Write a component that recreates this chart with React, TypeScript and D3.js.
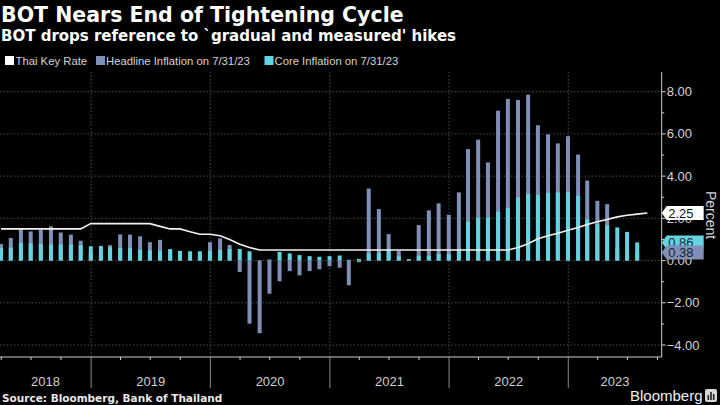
import React from "react";
import * as d3 from "d3";

const months = [
  "2018-03","2018-04","2018-05","2018-06","2018-07","2018-08","2018-09","2018-10","2018-11","2018-12",
  "2019-01","2019-02","2019-03","2019-04","2019-05","2019-06","2019-07","2019-08","2019-09","2019-10","2019-11","2019-12",
  "2020-01","2020-02","2020-03","2020-04","2020-05","2020-06","2020-07","2020-08","2020-09","2020-10","2020-11","2020-12",
  "2021-01","2021-02","2021-03","2021-04","2021-05","2021-06","2021-07","2021-08","2021-09","2021-10","2021-11","2021-12",
  "2022-01","2022-02","2022-03","2022-04","2022-05","2022-06","2022-07","2022-08","2022-09","2022-10","2022-11","2022-12",
  "2023-01","2023-02","2023-03","2023-04","2023-05","2023-06","2023-07",
];

const headline = [
  0.78, 1.07, 1.49, 1.38, 1.46, 1.62, 1.33, 1.23, 0.94, 0.36,
  0.27, 0.73, 1.24, 1.23, 1.15, 0.87, 0.98, 0.52, 0.32, 0.11, 0.21, 0.87,
  1.05, 0.74, -0.54, -2.99, -3.44, -1.57, -0.98, -0.5, -0.7, -0.5, -0.41, -0.27,
  -0.34, -1.17, -0.08, 3.41, 2.44, 1.25, 0.45, -0.02, 1.68, 2.38, 2.71, 2.17,
  3.23, 5.28, 5.73, 4.65, 7.1, 7.66, 7.61, 7.86, 6.41, 5.98, 5.55, 5.89,
  5.02, 3.79, 2.83, 2.67, 0.53, 0.23, 0.38,
];

const core = [
  0.6, 0.62, 0.83, 0.82, 0.79, 0.76, 0.76, 0.76, 0.72, 0.68,
  0.69, 0.63, 0.6, 0.58, 0.5, 0.48, 0.46, 0.54, 0.46, 0.44, 0.44, 0.46,
  0.5, 0.55, 0.55, 0.44, 0.01, 0.05, 0.41, 0.34, 0.26, 0.21, 0.18, 0.21,
  0.24, 0.04, 0.08, 0.34, 0.37, 0.52, 0.2, 0.07, 0.23, 0.23, 0.31, 0.31,
  0.55, 1.84, 2.03, 2.03, 2.31, 2.5, 2.99, 3.17, 3.12, 3.21, 3.23, 3.24,
  3.07, 1.95, 1.72, 1.67, 1.57, 1.36, 0.86,
];

const rateMonths = [...months, "2023-08"];
const keyRate = [
  1.5, 1.5, 1.5, 1.5, 1.5, 1.5, 1.5, 1.5, 1.5, 1.75,
  1.75, 1.75, 1.75, 1.75, 1.75, 1.75, 1.62, 1.5, 1.5, 1.37, 1.25, 1.25,
  1.18, 1.0, 0.77, 0.62, 0.5, 0.5, 0.5, 0.5, 0.5, 0.5, 0.5, 0.5,
  0.5, 0.5, 0.5, 0.5, 0.5, 0.5, 0.5, 0.5, 0.5, 0.5, 0.5, 0.5,
  0.5, 0.5, 0.5, 0.5, 0.5, 0.5, 0.62, 0.8, 1.03, 1.18, 1.29, 1.44,
  1.57, 1.71, 1.84, 1.95, 2.07, 2.15, 2.2, 2.25,
];

const yTicks = [-4, -2, 0, 2, 4, 6, 8];
const yMinorTicks = [-3, -1, 1, 3, 5, 7];
const yearLabels = ["2018", "2019", "2020", "2021", "2022", "2023"];

const labels = [
  { text: "2.25", value: 2.25, fill: "#ffffff", color: "#111" },
  { text: "0.86", value: 0.86, fill: "#65d3df", color: "#1a2a33" },
  { text: "0.38", value: 0.38, fill: "#7f8fb5", color: "#1a1f2e" },
];

const W = 720;
const H = 405;
const PLOT_LEFT = 0;
const PLOT_RIGHT = 661.7;
const PLOT_TOP = 72;
const PLOT_BOTTOM = 357;

const HEAD_COLOR = "#7f8fb5";
const CORE_COLOR = "#65d3df";
const GRID = "#4a4a4a";
const AXIS = "#cfcfcf";
const FONT = "'Liberation Sans', Arial, sans-serif";
const BOLD_FONT = "'DejaVu Sans', 'Liberation Sans', sans-serif";

const parseMonth = d3.timeParse("%Y-%m");
const monthEnd = (m: string) => d3.timeDay.offset(d3.timeMonth.offset(parseMonth(m)!, 1), -1);

export default function App() {
  const x = d3
    .scaleTime()
    .domain([new Date(2018, 2, 28), new Date(2023, 9, 14)])
    .range([PLOT_LEFT, PLOT_RIGHT]);
  const y = d3.scaleLinear().domain([-4, 8]).range([345, 91.7]);

  const barW = 4;
  const line = d3
    .line<number>()
    .x((_, i) => x(monthEnd(rateMonths[i])))
    .y((d) => y(d));

  const yearStarts = d3.timeYear.range(new Date(2018, 0, 1), new Date(2024, 0, 1));
  const yearBounds = yearStarts.filter((d) => x(d) > PLOT_LEFT && x(d) < PLOT_RIGHT);
  const quarters = d3.timeMonth
    .every(3)!
    .range(x.domain()[0], x.domain()[1])
    .filter((d) => d.getMonth() !== 0);

  return (
    <svg width={W} height={H} style={{ position: "absolute", left: 0, top: 0, background: "#000" }}>
      <rect x={0} y={0} width={W} height={H} fill="#000" />
      {/* Title */}
      <text x={1} y={21.5} fill="#fff" fontFamily={BOLD_FONT} fontWeight="bold" fontSize={20.5}>
        BOT Nears End of Tightening Cycle
      </text>
      <text x={1} y={40.5} fill="#fff" fontFamily={BOLD_FONT} fontWeight="bold" fontSize={15}>
        BOT drops reference to `gradual and measured' hikes
      </text>
      {/* Legend */}
      <g fontFamily={FONT} fontSize={11.3} fill="#d4d4d4">
        <rect x={5} y={56} width={9} height={9} fill="#fff" />
        <text x={15.5} y={65}>Thai Key Rate</text>
        <rect x={96} y={56} width={9} height={9} fill={HEAD_COLOR} />
        <text x={106} y={65}>Headline Inflation on 7/31/23</text>
        <rect x={264.5} y={56} width={9} height={9} fill={CORE_COLOR} />
        <text x={274.5} y={65}>Core Inflation on 7/31/23</text>
      </g>

      {/* Grid */}
      {yTicks.map((t) => (
        <line key={"hg" + t} x1={PLOT_LEFT} x2={PLOT_RIGHT} y1={y(t)} y2={y(t)} stroke={GRID} strokeDasharray="1.5,2" />
      ))}
      {yearBounds.map((d, i) => (
        <line key={"vg" + i} x1={x(d)} x2={x(d)} y1={PLOT_TOP} y2={PLOT_BOTTOM} stroke={GRID} strokeDasharray="1.5,2" />
      ))}

      {/* Bars */}
      {months.map((m, i) => {
        const cx = x(monthEnd(m));
        const h = headline[i];
        const c = core[i];
        return (
          <g key={m}>
            <rect x={cx - barW / 2} width={barW} y={y(Math.max(0, h))} height={Math.abs(y(h) - y(0))} fill={HEAD_COLOR} />
            <rect x={cx - barW / 2} width={barW} y={y(Math.max(0, c))} height={Math.abs(y(c) - y(0))} fill={CORE_COLOR} />
          </g>
        );
      })}

      {/* Key rate line */}
      <path d={line(keyRate) || ""} fill="none" stroke="#f2f2f2" strokeWidth={1.6} />

      {/* Bottom axis */}
      <line x1={PLOT_LEFT} x2={PLOT_RIGHT} y1={PLOT_BOTTOM} y2={PLOT_BOTTOM} stroke={AXIS} strokeWidth={1} />
      {quarters.map((d, i) => (
        <line key={"q" + i} x1={x(d)} x2={x(d)} y1={PLOT_BOTTOM} y2={PLOT_BOTTOM + 3} stroke={AXIS} />
      ))}
      {yearBounds.map((d, i) => (
        <line key={"yb" + i} x1={x(d)} x2={x(d)} y1={PLOT_BOTTOM} y2={388} stroke="#8a8a8a" />
      ))}
      {yearStarts.map((d, i) => {
        const a = Math.max(PLOT_LEFT, x(d));
        const b = Math.min(PLOT_RIGHT, x(d3.timeYear.offset(d, 1)));
        return (
          <text key={"yl" + i} x={(a + b) / 2} y={386} textAnchor="middle" fill="#cfcfcf" fontFamily={FONT} fontSize={13}>
            {yearLabels[i]}
          </text>
        );
      })}

      {/* Right axis */}
      <line x1={PLOT_RIGHT} x2={PLOT_RIGHT} y1={PLOT_TOP} y2={PLOT_BOTTOM} stroke={AXIS} />
      {yMinorTicks.map((t) => (
        <line key={"mt" + t} x1={PLOT_RIGHT} x2={PLOT_RIGHT + 2.5} y1={y(t)} y2={y(t)} stroke={AXIS} />
      ))}
      {yTicks.map((t) => (
        <g key={"yt" + t}>
          <line x1={PLOT_RIGHT} x2={PLOT_RIGHT + 4} y1={y(t)} y2={y(t)} stroke={AXIS} />
          <text x={PLOT_RIGHT + 5} y={y(t) + 4.5} fill="#d4d4d4" fontFamily={FONT} fontSize={13}>
            {d3.format(".2f")(t)}
          </text>
        </g>
      ))}
      <text
        transform={`translate(706,215) rotate(90)`}
        textAnchor="middle"
        fill="#d4d4d4"
        fontFamily={FONT}
        fontSize={14}
      >
        Percent
      </text>

      {/* Value labels */}
      {labels.map((l) => {
        const cy = y(l.value);
        const x0 = PLOT_RIGHT;
        const bx = x0 + 5;
        const bw = 37;
        const bh = 14;
        const p = `M${x0},${cy} L${bx},${cy - bh / 2} L${bx + bw},${cy - bh / 2} L${bx + bw},${cy + bh / 2} L${bx},${cy + bh / 2} Z`;
        return (
          <g key={l.text}>
            <path d={p} fill={l.fill} />
            <text x={bx + 1.5} y={cy + 4.5} fill={l.color} fontFamily={FONT} fontSize={13}>
              {l.text}
            </text>
          </g>
        );
      })}

      {/* Footer */}
      <text x={2} y={401.5} fill="#e8e8e8" fontFamily={BOLD_FONT} fontWeight="bold" fontSize={10.5}>
        Source: Bloomberg, Bank of Thailand
      </text>
      <text x={630} y={401} fill="#f0f0f0" fontFamily={FONT} fontSize={15}>
        Bloomberg
      </text>
      <rect x={705} y={389} width={12} height={13} rx={2} fill="#d8d8d8" />
      <rect x={707.5} y={395} width={1.6} height={5} fill="#222" />
      <rect x={710.2} y={392} width={1.6} height={8} fill="#222" />
      <rect x={712.9} y={394} width={1.6} height={6} fill="#222" />
    </svg>
  );
}
